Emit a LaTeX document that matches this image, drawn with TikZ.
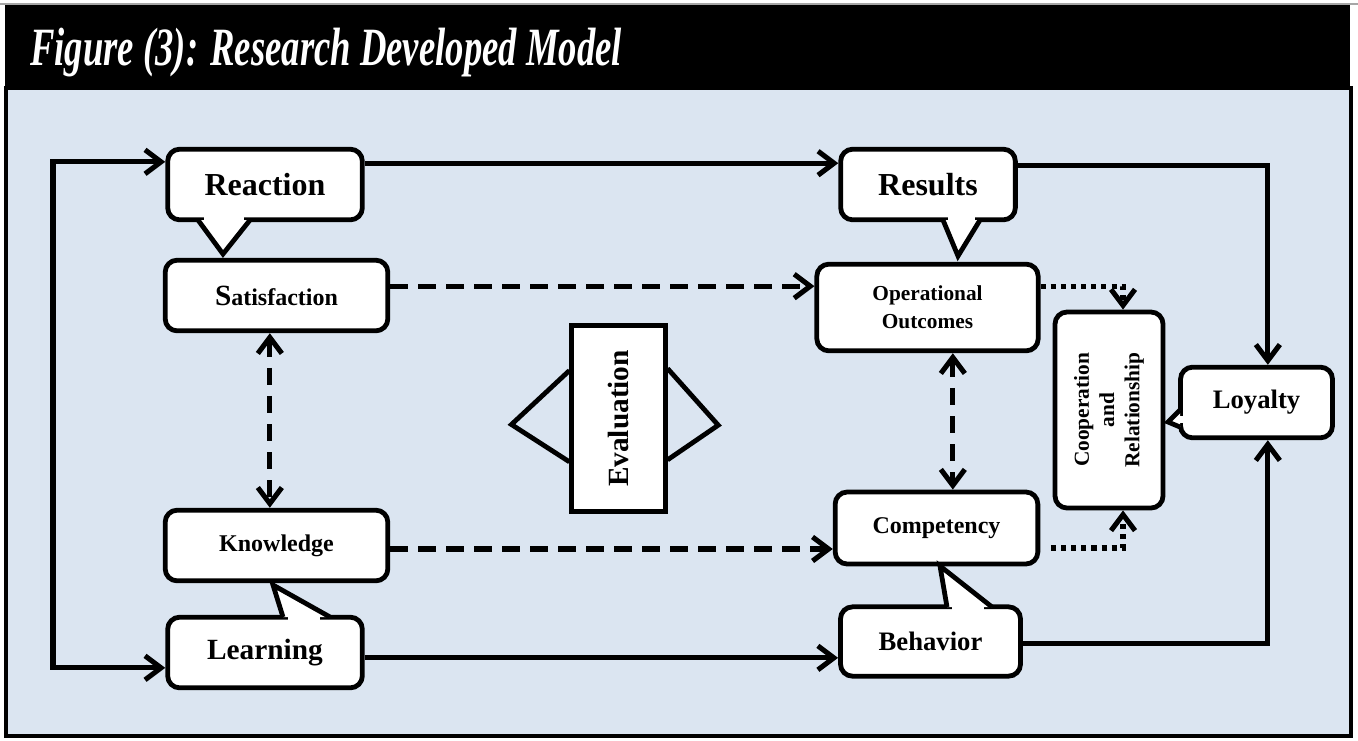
\documentclass[tikz,border=0pt]{standalone}
\usepackage{fontspec}
\setmainfont{Liberation Serif}
\usetikzlibrary{arrows.meta}
\definecolor{panelblue}{HTML}{DBE5F1}
\tikzset{
  plainbox/.style={draw, fill=white, line width=3.6pt, rounded corners=9pt,
    inner sep=0pt, align=center},
  beak/.style={draw, fill=white, line width=3.6pt, line join=miter},
  link/.style={line width=3.8pt, -{Straight Barb[length=12pt,width=18pt]}},
  bothlink/.style={line width=3.8pt,
    {Straight Barb[length=12pt,width=18pt]}-{Straight Barb[length=12pt,width=18pt]}},
  dashed link/.style={dash pattern=on 13pt off 8pt},
  dotted link/.style={dash pattern=on 3.8pt off 3.8pt},
  wing/.style={line width=3.6pt, line join=miter},
}
\begin{document}
\begin{tikzpicture}[x=0.75pt, y=-0.75pt]
    \useasboundingbox (0,0) rectangle (1358,740);

    % Rahmen und Titelleiste
    \draw[black!35, line width=0.8pt] (0,4) -- (1358,4);
    \filldraw[fill=panelblue, line width=2.4pt] (6,88) rectangle (1351,736);
    \fill[black] (5,5) rectangle (1350,90);
    \node[anchor=base west, text=white, inner sep=0pt] (title) at (30,65)
      {\scalebox{1}[1.47]{\fontsize{27.5}{30}\selectfont\bfseries\itshape Figure (3): Research Developed Model}};

    % Kaesten
    \node[plainbox, minimum width=167pt, minimum height=53pt,
      font=\fontsize{18}{21}\selectfont\bfseries] (sat) at (276.5,295.5)
      {{\fontsize{22}{24}\selectfont S}atisfaction};
    \node[plainbox, minimum width=167pt, minimum height=53pt,
      font=\fontsize{18}{21}\selectfont\bfseries] (know) at (276.5,545.5) {Knowledge};
    \node[plainbox, minimum width=166pt, minimum height=65pt,
      font=\fontsize{16}{21}\selectfont\bfseries] (oper) at (927.5,307.5) {Operational\\Outcomes};
    \node[plainbox, minimum width=152pt, minimum height=54pt,
      font=\fontsize{18}{21}\selectfont\bfseries] (comp) at (936.5,528) {Competency};
    \node[plainbox, minimum width=81pt, minimum height=147pt,
      font=\fontsize{16}{19}\selectfont\bfseries] (coop) at (1109,410)
      {\rotatebox{90}{\begin{tabular}{@{}c@{}}Cooperation\\and\\Relationship\end{tabular}}};
    \node[plainbox, sharp corners, minimum width=70pt, minimum height=139pt,
      font=\fontsize{22}{24}\selectfont\bfseries] (eval) at (618.5,418.5)
      {\rotatebox{90}{Evaluation}};

    % Sprechblasen
    \node[plainbox, minimum width=146pt, minimum height=53pt,
      font=\fontsize{24}{28}\selectfont\bfseries] (reaction) at (265,184.5) {Reaction};
    \node[plainbox, minimum width=131pt, minimum height=53pt,
      font=\fontsize{24}{28}\selectfont\bfseries] (results) at (928,184.5) {Results};
    \node[plainbox, minimum width=146pt, minimum height=53pt,
      font=\fontsize{22}{26}\selectfont\bfseries] (learning) at (265,652.5) {Learning};
    \node[plainbox, minimum width=135pt, minimum height=52pt,
      font=\fontsize{20}{24}\selectfont\bfseries] (behavior) at (930.5,641.5) {Behavior};
    \node[plainbox, minimum width=114pt, minimum height=53pt,
      font=\fontsize{20}{24}\selectfont\bfseries] (loyalty) at (1256.5,402.5) {Loyalty};

    % Spitzen der Sprechblasen
    \path[beak] (198,220) -- (223,254) -- (250,220);
    \fill[white] (204,215) rectangle (244,221);
    \path[beak] (943,220) -- (958,256) -- (980,220);
    \fill[white] (948,215) rectangle (975,221);
    \path[beak] (283,617) -- (273,585) -- (330,617);
    \fill[white] (288,616) rectangle (320,621);
    \path[beak] (947,607) -- (940,566) -- (992,607);
    \fill[white] (952,605) rectangle (984,611);
    \path[beak] (1180,410) -- (1168,422) -- (1180,427);
    \fill[white] (1177.5,416) rectangle (1183,423);

    % Fluegel der Evaluation
    \draw[wing] ([yshift=36pt]eval.west) -- ++(-43.5pt,-40.5pt) -- ([yshift=-32.5pt]eval.west);
    \draw[wing] ([yshift=37.5pt]eval.east) -- ++(38pt,-42.5pt) -- ([yshift=-31pt]eval.east);

    % Verbindungen
    \coordinate (loop-top) at ([yshift=17pt]reaction.west);
    \coordinate (loop-bot) at ([yshift=-11.5pt]learning.west);
    \coordinate (loop-x) at (53,400);
    \draw[bothlink] (loop-top) -- (loop-top -| loop-x) -- (loop-bot -| loop-x) -- (loop-bot);

    \draw[link] ([yshift=16pt]reaction.east) -- ([yshift=16pt]results.west);
    \draw[link] ([yshift=14pt]results.east) -| ([xshift=8.5pt]loyalty.north);
    \draw[link] ([yshift=-1.5pt]behavior.east) -| ([xshift=8.5pt]loyalty.south);
    \coordinate (lrn-out) at ([yshift=-4pt]learning.east);
    \draw[link] (lrn-out) -- (lrn-out -| behavior.west);

    \coordinate (sat-out) at ([yshift=7pt]sat.east);
    \draw[link, dashed link] (sat-out) -- (sat-out -| oper.west);
    \coordinate (know-out) at ([yshift=-2.6pt]know.east);
    \draw[link, dashed link] (know-out) -- (know-out -| comp.west);
    \draw[bothlink, dashed link] ([xshift=-5pt]sat.south) -- ([xshift=-5pt]know.north);
    \coordinate (oc-top) at ([xshift=19pt]oper.south);
    \draw[bothlink, dashed link] (oc-top) -- (oc-top |- comp.north);

    \draw[link, dotted link] ([yshift=16pt]oper.east) -| ([xshift=10.5pt]coop.north);
    \draw[link, dotted link, shorten <=8pt] ([yshift=-15pt]comp.east) -| ([xshift=10.5pt]coop.south);
\end{tikzpicture}
\end{document}
